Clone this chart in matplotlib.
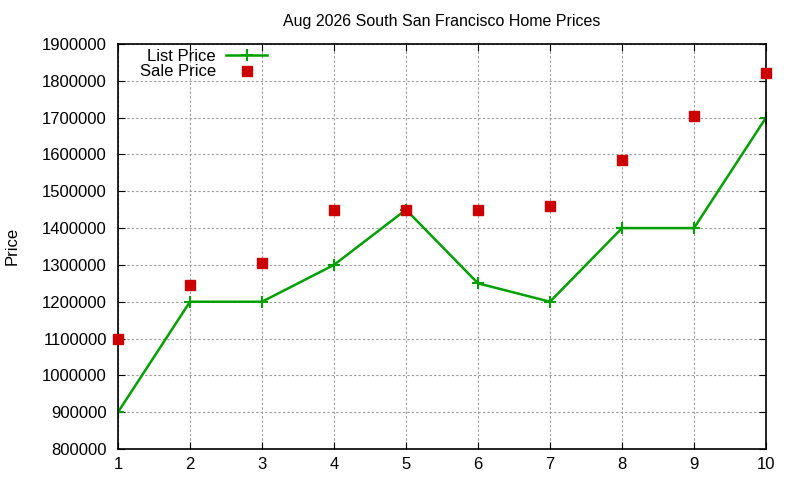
import matplotlib.pyplot as plt

plt.rcParams['font.family'] = ['Liberation Sans', 'DejaVu Sans']

months = [1, 2, 3, 4, 5, 6, 7, 8, 9, 10]
list_price = [900000, 1200000, 1200000, 1300000, 1450000, 1250000, 1200000, 1400000, 1400000, 1700000]
sale_price = [1100000, 1245000, 1305000, 1450000, 1450000, 1450000, 1460000, 1585000, 1705000, 1820000]
y_ticks = list(range(800000, 2000000, 100000))

fig = plt.figure(figsize=(8, 4.8), dpi=100)
ax = fig.add_axes([118 / 800, 1 - 449 / 480, (766 - 118) / 800, (449 - 44) / 480])

ax.plot(months, list_price, color='#00A000', lw=1.8, marker='+', ms=8, mew=1.5, label='List Price')
ax.plot(months, sale_price, ls='none', marker='s', ms=7, color='#CC0000', label='Sale Price',
        clip_on=False, zorder=3)

ax.set_xlim(1, 10)
ax.set_ylim(800000, 1900000)
ax.set_xticks(months)
ax.set_yticks(y_ticks)
ax.set_yticklabels([str(v) for v in y_ticks])
ax.tick_params(direction='in', top=True, right=True, labelsize=12, length=5)
ax.tick_params(axis='y', pad=8)
ax.tick_params(axis='x', pad=6)
ax.grid(True, color='#999999', ls=(0, (2, 2)), lw=0.8)
for s in ax.spines.values():
    s.set_linewidth(1.2)

ax.set_title('Aug 2026 South San Francisco Home Prices', fontsize=11.5, pad=13)
fig.text(12 / 800, 1 - 246 / 480, 'Price', rotation=90, va='center', ha='center', fontsize=12)

ax.legend(loc='upper left', bbox_to_anchor=(0.023, 1.005), frameon=False, markerfirst=False,
          fontsize=12, handlelength=2.5, handletextpad=0.6, labelspacing=0.05, borderaxespad=0)

fig.savefig('out.png', dpi=100)
